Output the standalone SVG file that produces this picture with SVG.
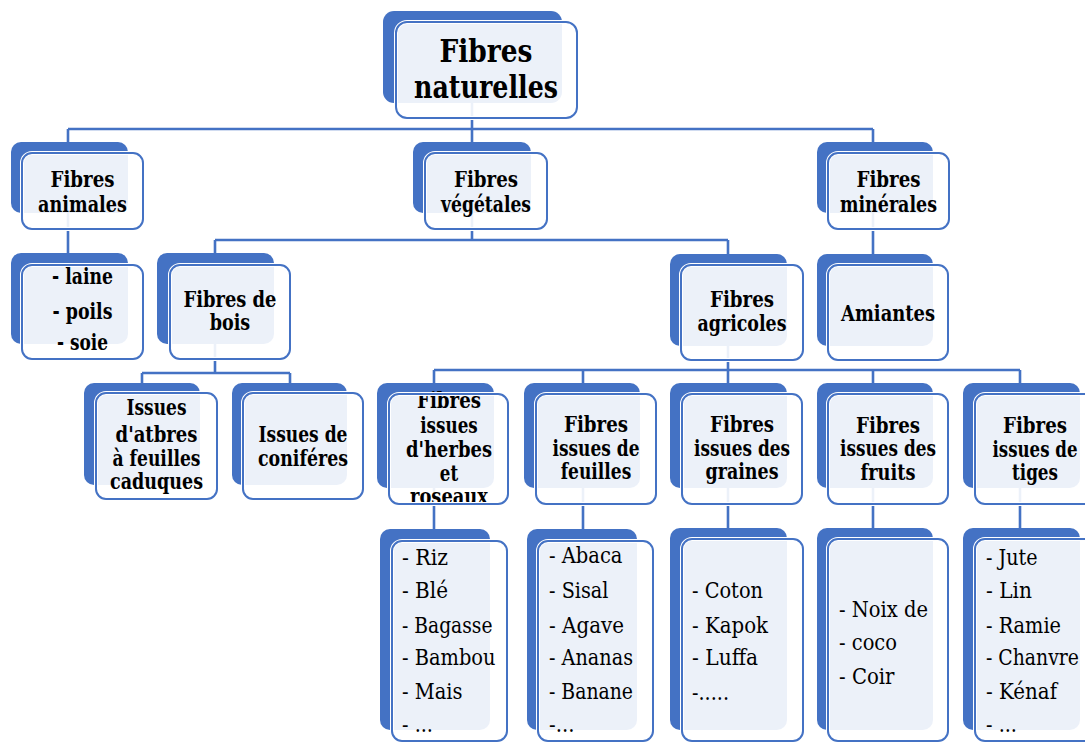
<svg xmlns="http://www.w3.org/2000/svg" width="1085" height="742" viewBox="0 0 1085 742">
<style>
.back{fill:#4472C4}
.front{fill:#fff;fill-opacity:0.9}
.edge{fill:none;stroke:#fff;stroke-width:4}
.edge2{fill:none;stroke:#4472C4;stroke-width:2}
.conn{fill:none;stroke:#4472C4;stroke-width:2.6}
text{font-family:"DejaVu Serif","Liberation Serif",serif;fill:#000}
.t0{font-weight:bold;font-size:32px;text-anchor:middle}
.b{font-weight:bold;font-size:22.5px;text-anchor:middle}
.r{font-size:22.5px}
</style>
<rect width="1085" height="742" fill="#fff"/>
<g id="connectors">
<path class="conn" d="M472 103V129M68 129H873M68 129V142M472 129V142M873 129V142"/>
<path class="conn" d="M68 213V253M472 213V240M215 240H728M215 240V253M728 240V254M873 213V254"/>
<path class="conn" d="M215 344V373M142 373H290M142 373V383M290 373V383"/>
<path class="conn" d="M728 346V370M434 370H1020M434 370V383M583 370V383M728 370V383M873 370V383M1020 370V383"/>
<path class="conn" d="M434 488V529M583 488V529M728 488V529M873 488V529M1020 488V529"/>
</g>
<g id="root">
<rect class="back" x="383" y="11" width="179" height="92" rx="11"/>
<rect class="front" x="396" y="22" width="181" height="96" rx="11"/>
<text class="t0" x="486" y="62" textLength="93" lengthAdjust="spacingAndGlyphs">Fibres</text>
<text class="t0" x="486" y="98" textLength="144" lengthAdjust="spacingAndGlyphs">naturelles</text>
<rect class="edge" x="396" y="22" width="181" height="96" rx="11"/>
<rect class="edge2" x="396" y="22" width="181" height="96" rx="11"/>
</g>
<g id="animales">
<rect class="back" x="11" y="142" width="117" height="71" rx="10"/>
<rect class="front" x="22" y="153" width="121" height="76" rx="10"/>
<text class="b" x="82.5" y="187" textLength="64" lengthAdjust="spacingAndGlyphs">Fibres</text>
<text class="b" x="82.5" y="212" textLength="88.8" lengthAdjust="spacingAndGlyphs">animales</text>
<rect class="edge" x="22" y="153" width="121" height="76" rx="10"/>
<rect class="edge2" x="22" y="153" width="121" height="76" rx="10"/>
</g>
<g id="vegetales">
<rect class="back" x="413" y="142" width="118" height="71" rx="10"/>
<rect class="front" x="425" y="153" width="122" height="76" rx="10"/>
<text class="b" x="486" y="187" textLength="64" lengthAdjust="spacingAndGlyphs">Fibres</text>
<text class="b" x="486" y="212" textLength="90" lengthAdjust="spacingAndGlyphs">végétales</text>
<rect class="edge" x="425" y="153" width="122" height="76" rx="10"/>
<rect class="edge2" x="425" y="153" width="122" height="76" rx="10"/>
</g>
<g id="minerales">
<rect class="back" x="817" y="142" width="116" height="71" rx="10"/>
<rect class="front" x="828" y="153" width="121" height="76" rx="10"/>
<text class="b" x="888.5" y="187" textLength="64" lengthAdjust="spacingAndGlyphs">Fibres</text>
<text class="b" x="888.5" y="212" textLength="97" lengthAdjust="spacingAndGlyphs">minérales</text>
<rect class="edge" x="828" y="153" width="121" height="76" rx="10"/>
<rect class="edge2" x="828" y="153" width="121" height="76" rx="10"/>
</g>
<g id="animal-list">
<rect class="back" x="11" y="253" width="117" height="91" rx="10"/>
<rect class="front" x="22" y="265" width="121" height="94" rx="10"/>
<text class="b" x="82.5" y="284" textLength="61" lengthAdjust="spacingAndGlyphs">- laine</text>
<text class="b" x="82.5" y="319" textLength="60" lengthAdjust="spacingAndGlyphs">- poils</text>
<text class="b" x="82.5" y="350" textLength="51" lengthAdjust="spacingAndGlyphs">- soie</text>
<rect class="edge" x="22" y="265" width="121" height="94" rx="10"/>
<rect class="edge2" x="22" y="265" width="121" height="94" rx="10"/>
</g>
<g id="bois">
<rect class="back" x="157" y="253" width="117" height="91" rx="10"/>
<rect class="front" x="170" y="265" width="120" height="94" rx="10"/>
<text class="b" x="230" y="307" textLength="93" lengthAdjust="spacingAndGlyphs">Fibres de</text>
<text class="b" x="230" y="330" textLength="40.5" lengthAdjust="spacingAndGlyphs">bois</text>
<rect class="edge" x="170" y="265" width="120" height="94" rx="10"/>
<rect class="edge2" x="170" y="265" width="120" height="94" rx="10"/>
</g>
<g id="agricoles">
<rect class="back" x="670" y="254" width="117" height="92" rx="10"/>
<rect class="front" x="681" y="265" width="122" height="95" rx="10"/>
<text class="b" x="742" y="307" textLength="64" lengthAdjust="spacingAndGlyphs">Fibres</text>
<text class="b" x="742" y="331" textLength="89" lengthAdjust="spacingAndGlyphs">agricoles</text>
<rect class="edge" x="681" y="265" width="122" height="95" rx="10"/>
<rect class="edge2" x="681" y="265" width="122" height="95" rx="10"/>
</g>
<g id="amiantes">
<rect class="back" x="817" y="254" width="116" height="92" rx="10"/>
<rect class="front" x="828" y="265" width="120" height="95" rx="10"/>
<text class="b" x="888" y="321" textLength="94" lengthAdjust="spacingAndGlyphs">Amiantes</text>
<rect class="edge" x="828" y="265" width="120" height="95" rx="10"/>
<rect class="edge2" x="828" y="265" width="120" height="95" rx="10"/>
</g>
<g id="caduques">
<rect class="back" x="84" y="383" width="116" height="102" rx="10"/>
<rect class="front" x="96" y="393" width="121" height="106" rx="10"/>
<text class="b" x="156.5" y="415" textLength="60" lengthAdjust="spacingAndGlyphs">Issues</text>
<text class="b" x="156.5" y="442" textLength="82" lengthAdjust="spacingAndGlyphs">d'atbres</text>
<text class="b" x="156.5" y="466" textLength="88" lengthAdjust="spacingAndGlyphs">à feuilles</text>
<text class="b" x="156.5" y="489" textLength="93" lengthAdjust="spacingAndGlyphs">caduques</text>
<rect class="edge" x="96" y="393" width="121" height="106" rx="10"/>
<rect class="edge2" x="96" y="393" width="121" height="106" rx="10"/>
</g>
<g id="coniferes">
<rect class="back" x="232" y="383" width="115" height="102" rx="10"/>
<rect class="front" x="243" y="393" width="120" height="106" rx="10"/>
<text class="b" x="303" y="442" textLength="89" lengthAdjust="spacingAndGlyphs">Issues de</text>
<text class="b" x="303" y="466" textLength="90" lengthAdjust="spacingAndGlyphs">coniféres</text>
<rect class="edge" x="243" y="393" width="120" height="106" rx="10"/>
<rect class="edge2" x="243" y="393" width="120" height="106" rx="10"/>
</g>
<g id="herbes">
<rect class="back" x="377" y="383" width="117" height="105" rx="10"/>
<rect class="front" x="389" y="394" width="119" height="110" rx="10"/>
<text class="b" x="449" y="408" textLength="64" lengthAdjust="spacingAndGlyphs">Fibres</text>
<text class="b" x="449" y="433" textLength="57.5" lengthAdjust="spacingAndGlyphs">issues</text>
<text class="b" x="449" y="457" textLength="86" lengthAdjust="spacingAndGlyphs">d'herbes</text>
<text class="b" x="449" y="481" textLength="18.3" lengthAdjust="spacingAndGlyphs">et</text>
<text class="b" x="449" y="504" textLength="78" lengthAdjust="spacingAndGlyphs">roseaux</text>
<rect class="edge" x="389" y="394" width="119" height="110" rx="10"/>
<rect class="edge2" x="389" y="394" width="119" height="110" rx="10"/>
</g>
<g id="feuilles">
<rect class="back" x="524" y="383" width="116" height="105" rx="10"/>
<rect class="front" x="536" y="394" width="120" height="110" rx="10"/>
<text class="b" x="596" y="432" textLength="64" lengthAdjust="spacingAndGlyphs">Fibres</text>
<text class="b" x="596" y="456" textLength="87" lengthAdjust="spacingAndGlyphs">issues de</text>
<text class="b" x="596" y="479" textLength="70.5" lengthAdjust="spacingAndGlyphs">feuilles</text>
<rect class="edge" x="536" y="394" width="120" height="110" rx="10"/>
<rect class="edge2" x="536" y="394" width="120" height="110" rx="10"/>
</g>
<g id="graines">
<rect class="back" x="670" y="383" width="117" height="105" rx="10"/>
<rect class="front" x="682" y="394" width="120" height="110" rx="10"/>
<text class="b" x="742" y="432" textLength="64" lengthAdjust="spacingAndGlyphs">Fibres</text>
<text class="b" x="742" y="456" textLength="96" lengthAdjust="spacingAndGlyphs">issues des</text>
<text class="b" x="742" y="479" textLength="73" lengthAdjust="spacingAndGlyphs">graines</text>
<rect class="edge" x="682" y="394" width="120" height="110" rx="10"/>
<rect class="edge2" x="682" y="394" width="120" height="110" rx="10"/>
</g>
<g id="fruits">
<rect class="back" x="817" y="383" width="116" height="105" rx="10"/>
<rect class="front" x="828" y="394" width="120" height="110" rx="10"/>
<text class="b" x="888" y="433" textLength="64" lengthAdjust="spacingAndGlyphs">Fibres</text>
<text class="b" x="888" y="456" textLength="96" lengthAdjust="spacingAndGlyphs">issues des</text>
<text class="b" x="888" y="480" textLength="55" lengthAdjust="spacingAndGlyphs">fruits</text>
<rect class="edge" x="828" y="394" width="120" height="110" rx="10"/>
<rect class="edge2" x="828" y="394" width="120" height="110" rx="10"/>
</g>
<g id="tiges">
<rect class="back" x="963" y="383" width="117" height="105" rx="10"/>
<rect class="front" x="975" y="394" width="120" height="110" rx="10"/>
<text class="b" x="1035" y="433" textLength="64" lengthAdjust="spacingAndGlyphs">Fibres</text>
<text class="b" x="1035" y="457" textLength="85" lengthAdjust="spacingAndGlyphs">issues de</text>
<text class="b" x="1035" y="480" textLength="46" lengthAdjust="spacingAndGlyphs">tiges</text>
<rect class="edge" x="975" y="394" width="120" height="110" rx="10"/>
<rect class="edge2" x="975" y="394" width="120" height="110" rx="10"/>
</g>
<g id="list-herbes">
<rect class="back" x="380" y="529" width="110" height="201" rx="10"/>
<rect class="front" x="392" y="541" width="115" height="200" rx="10"/>
<text class="r" x="402" y="565" textLength="46" lengthAdjust="spacingAndGlyphs">- Riz</text>
<text class="r" x="402" y="598" textLength="46" lengthAdjust="spacingAndGlyphs">- Blé</text>
<text class="r" x="402" y="633" textLength="90.5" lengthAdjust="spacingAndGlyphs">- Bagasse</text>
<text class="r" x="402" y="665" textLength="93.5" lengthAdjust="spacingAndGlyphs">- Bambou</text>
<text class="r" x="402" y="699" textLength="60.5" lengthAdjust="spacingAndGlyphs">- Mais</text>
<text class="r" x="402" y="732" textLength="31" lengthAdjust="spacingAndGlyphs">- ...</text>
<rect class="edge" x="392" y="541" width="115" height="200" rx="10"/>
<rect class="edge2" x="392" y="541" width="115" height="200" rx="10"/>
</g>
<g id="list-feuilles">
<rect class="back" x="527" y="529" width="110" height="201" rx="10"/>
<rect class="front" x="538" y="541" width="115" height="200" rx="10"/>
<text class="r" x="549" y="563" textLength="73.5" lengthAdjust="spacingAndGlyphs">- Abaca</text>
<text class="r" x="549" y="598" textLength="59.5" lengthAdjust="spacingAndGlyphs">- Sisal</text>
<text class="r" x="549" y="633" textLength="75" lengthAdjust="spacingAndGlyphs">- Agave</text>
<text class="r" x="549" y="665" textLength="84" lengthAdjust="spacingAndGlyphs">- Ananas</text>
<text class="r" x="549" y="699" textLength="84" lengthAdjust="spacingAndGlyphs">- Banane</text>
<text class="r" x="549" y="732" textLength="25.5" lengthAdjust="spacingAndGlyphs">-...</text>
<rect class="edge" x="538" y="541" width="115" height="200" rx="10"/>
<rect class="edge2" x="538" y="541" width="115" height="200" rx="10"/>
</g>
<g id="list-graines">
<rect class="back" x="670" y="528" width="117" height="202" rx="10"/>
<rect class="front" x="682" y="539" width="121" height="202" rx="10"/>
<text class="r" x="692" y="598" textLength="71" lengthAdjust="spacingAndGlyphs">- Coton</text>
<text class="r" x="692" y="633" textLength="76" lengthAdjust="spacingAndGlyphs">- Kapok</text>
<text class="r" x="692" y="665" textLength="66" lengthAdjust="spacingAndGlyphs">- Luffa</text>
<text class="r" x="692" y="700" textLength="37" lengthAdjust="spacingAndGlyphs">-.....</text>
<rect class="edge" x="682" y="539" width="121" height="202" rx="10"/>
<rect class="edge2" x="682" y="539" width="121" height="202" rx="10"/>
</g>
<g id="list-fruits">
<rect class="back" x="817" y="528" width="116" height="202" rx="10"/>
<rect class="front" x="828" y="539" width="120" height="202" rx="10"/>
<text class="r" x="839" y="617" textLength="89" lengthAdjust="spacingAndGlyphs">- Noix de</text>
<text class="r" x="839" y="650" textLength="58" lengthAdjust="spacingAndGlyphs">- coco</text>
<text class="r" x="839" y="684" textLength="55.5" lengthAdjust="spacingAndGlyphs">- Coir</text>
<rect class="edge" x="828" y="539" width="120" height="202" rx="10"/>
<rect class="edge2" x="828" y="539" width="120" height="202" rx="10"/>
</g>
<g id="list-tiges">
<rect class="back" x="963" y="528" width="117" height="202" rx="10"/>
<rect class="front" x="975" y="539" width="120" height="202" rx="10"/>
<text class="r" x="986" y="565" textLength="51.5" lengthAdjust="spacingAndGlyphs">- Jute</text>
<text class="r" x="986" y="598" textLength="46" lengthAdjust="spacingAndGlyphs">- Lin</text>
<text class="r" x="986" y="633" textLength="75" lengthAdjust="spacingAndGlyphs">- Ramie</text>
<text class="r" x="986" y="665" textLength="93" lengthAdjust="spacingAndGlyphs">- Chanvre</text>
<text class="r" x="986" y="699" textLength="71" lengthAdjust="spacingAndGlyphs">- Kénaf</text>
<text class="r" x="986" y="732" textLength="31" lengthAdjust="spacingAndGlyphs">- ...</text>
<rect class="edge" x="975" y="539" width="120" height="202" rx="10"/>
<rect class="edge2" x="975" y="539" width="120" height="202" rx="10"/>
</g>
</svg>
